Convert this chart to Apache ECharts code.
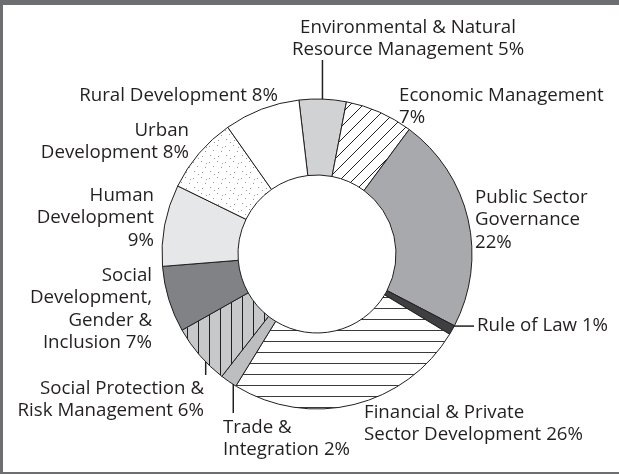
<!DOCTYPE html>
<html>
<head>
<meta charset="utf-8">
<script src="https://cdn.jsdelivr.net/npm/echarts@6/dist/echarts.min.js"></script>
<style>
  html, body { margin: 0; padding: 0; background: #fff; }
  #wrap { position: relative; width: 619px; height: 474px; }
  #chart { position: absolute; left: 0; top: 0; width: 619px; height: 474px; }
  #frame { position: absolute; left: 0; top: 0; width: 619px; height: 474px; box-sizing: border-box;
           border-top: 5px solid #6d6e71; border-left: 3px solid #6d6e71; border-bottom: 2px solid #6d6e71;
           pointer-events: none; }
</style>
</head>
<body>
<div id="wrap"><div id="chart"></div><div id="frame"></div></div>
<script>
// ---- data ----
const categories = [
  'Environmental & Natural Resource Management',
  'Economic Management',
  'Public Sector Governance',
  'Rule of Law',
  'Financial & Private Sector Development',
  'Trade & Integration',
  'Social Protection & Risk Management',
  'Social Development, Gender & Inclusion',
  'Human Development',
  'Urban Development',
  'Rural Development'
];
const values = [4.9, 7.1, 22.5, 1.0, 25.1, 1.75, 6.3, 6.9, 8.5, 8.0, 7.9];
const labelTexts = [
  'Environmental & Natural\nResource Management 5%',
  'Economic Management\n7%',
  'Public Sector\nGovernance\n22%',
  'Rule of Law 1%',
  'Financial & Private\nSector Development 26%',
  'Trade &\nIntegration 2%',
  'Social Protection &\nRisk Management 6%',
  'Social\nDevelopment,\nGender &\nInclusion 7%',
  'Human\nDevelopment\n9%',
  'Urban\nDevelopment 8%',
  'Rural Development 8%'
];

// ---- layout / style ----
const CX = 317, CY = 254, R_IN = 79, R_OUT = 155, START = 96.7;
const labelPos = [
  { x: 408, y: 16, align: 'center' },
  { x: 399, y: 84, align: 'left' },
  { x: 475, y: 186, align: 'left' },
  { x: 477, y: 314, align: 'left' },
  { x: 364, y: 401, align: 'left' },
  { x: 223, y: 416, align: 'left' },
  { x: 204, y: 377, align: 'right' },
  { x: 152, y: 264, align: 'right' },
  { x: 154, y: 184, align: 'right' },
  { x: 189, y: 119, align: 'right' },
  { x: 278, y: 84, align: 'right' }
];
// leader lines: direction and end coordinate
const leaders = { 0: { dir: 'v', to: 60 }, 3: { dir: 'h', to: 474 }, 5: { dir: 'v', to: 413 }, 6: { dir: 'v', to: 375 } };

function tile(w, h, draw) {
  const c = document.createElement('canvas');
  c.width = w; c.height = h;
  const g = c.getContext('2d');
  draw(g, w, h);
  return c;
}
const diagPat = tile(13, 13, (g, w, h) => {
  g.fillStyle = '#fff'; g.fillRect(0, 0, w, h);
  g.strokeStyle = '#231f20'; g.lineWidth = 1;
  g.beginPath();
  g.moveTo(-1, h + 1); g.lineTo(w + 1, -1);
  g.moveTo(-1, 1); g.lineTo(1, -1);
  g.moveTo(w - 1, h + 1); g.lineTo(w + 1, h - 1);
  g.stroke();
});
const horzPat = tile(8, 11, (g, w, h) => {
  g.fillStyle = '#fff'; g.fillRect(0, 0, w, h);
  g.fillStyle = '#3a3a3a'; g.fillRect(0, 0, w, 1);
});
const vertPat = tile(11, 8, (g, w, h) => {
  g.fillStyle = '#c7c8ca'; g.fillRect(0, 0, w, h);
  g.fillStyle = '#231f20'; g.fillRect(0, 0, 1, h);
});
const dotPat = tile(16, 16, (g, w, h) => {
  g.fillStyle = '#fff'; g.fillRect(0, 0, w, h);
  g.fillStyle = '#9a9a9a';
  [[1, 2], [9, 1], [5, 6], [13, 7], [2, 11], [10, 12], [6, 14], [14, 3]].forEach(p => g.fillRect(p[0], p[1], 1, 1));
});

const fills = [
  '#d1d2d4',
  { image: diagPat, repeat: 'repeat' },
  '#a7a9ac',
  '#3f3f41',
  { image: horzPat, repeat: 'repeat' },
  '#bcbec0',
  { image: vertPat, repeat: 'repeat' },
  '#808285',
  '#e6e7e8',
  { image: dotPat, repeat: 'repeat' },
  '#ffffff'
];

const total = values.reduce((a, b) => a + b, 0);
function midAngle(i) {
  let cum = 0;
  for (let k = 0; k < i; k++) cum += values[k];
  return (90 - START) + (cum + values[i] / 2) / total * 360; // clockwise from top, degrees
}
function polar(aDeg, r) {
  const a = aDeg * Math.PI / 180;
  return [CX + r * Math.sin(a), CY - r * Math.cos(a)];
}

const data = categories.map((name, i) => ({
  name: name,
  value: values[i],
  itemStyle: { color: fills[i] },
  labelLine: { show: leaders[i] !== undefined }
}));

const chart = echarts.init(document.getElementById('chart'), null, { renderer: 'canvas' });
chart.setOption({
  animation: false,
  backgroundColor: '#ffffff',
  series: [{
    type: 'pie',
    silent: true,
    center: [CX, CY],
    radius: [R_IN, R_OUT],
    startAngle: START,
    clockwise: true,
    avoidLabelOverlap: false,
    itemStyle: { borderColor: '#231f20', borderWidth: 1 },
    label: {
      show: true,
      position: 'outside',
      color: '#231f20',
      fontFamily: 'Open Sans',
      fontSize: 18.7,
      lineHeight: 22.5,
      formatter: p => labelTexts[p.dataIndex]
    },
    labelLine: {
      show: false,
      lineStyle: { color: '#231f20', width: 1.5 }
    },
    labelLayout: function (params) {
      const i = params.dataIndex;
      const lp = labelPos[i];
      const out = { x: lp.x, y: lp.y, align: lp.align, verticalAlign: 'top' };
      const ld = leaders[i];
      if (ld) {
        const a = midAngle(i);
        const p = polar(a, R_OUT - 8);
        if (ld.dir === 'v') out.labelLinePoints = [[p[0], p[1]], [p[0], (p[1] + ld.to) / 2], [p[0], ld.to]];
        else out.labelLinePoints = [[p[0], p[1]], [(p[0] + ld.to) / 2, p[1]], [ld.to, p[1]]];
      }
      return out;
    },
    data: data
  }]
});
</script>
</body>
</html>
